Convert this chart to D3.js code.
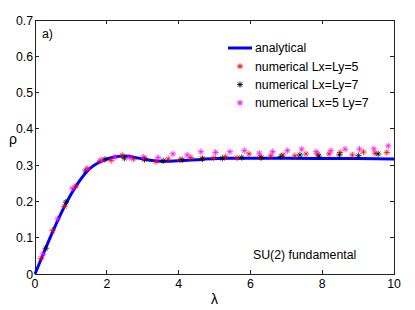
<!DOCTYPE html>
<html>
<head>
<meta charset="utf-8">
<script src="https://cdn.jsdelivr.net/npm/d3@7"></script>
<style>
  body { margin: 0; background: #fff; }
  text { font-family: "Liberation Sans", Arial, sans-serif; }
</style>
</head>
<body>
<svg id="chart" width="415" height="310"></svg>
<script>
// analytical curve
const curveLam = [0, 0.25, 0.5, 0.75, 1.0, 1.25, 1.5, 1.75, 2.0, 2.25, 2.5, 2.75, 3.0, 3.25, 3.5, 3.75, 4.0, 4.5, 5.0, 5.5, 6.0, 7.0, 8.0, 9.0, 10.0];
const curveRho = [0, 0.06, 0.118, 0.172, 0.219, 0.258, 0.288, 0.306, 0.317, 0.323, 0.325, 0.322, 0.317, 0.313, 0.311, 0.311, 0.312, 0.315, 0.318, 0.319, 0.319, 0.319, 0.318, 0.318, 0.317];

// numerical Lx=Ly=5
const redLam = [0.17, 0.49, 0.82, 1.14, 1.47, 1.81, 2.12, 2.43, 2.74, 3.06, 3.37, 3.71, 4.04, 4.34, 4.66, 4.98, 5.31, 5.63, 5.96, 6.27, 6.57, 6.91, 7.24, 7.55, 7.87, 8.19, 8.5, 8.84, 9.15, 9.47, 9.8];
const redRho = [0.043, 0.12, 0.186, 0.243, 0.29, 0.312, 0.313, 0.327, 0.317, 0.318, 0.31, 0.317, 0.315, 0.321, 0.318, 0.319, 0.323, 0.32, 0.331, 0.322, 0.326, 0.328, 0.326, 0.331, 0.33, 0.331, 0.335, 0.328, 0.336, 0.333, 0.335];

// numerical Lx=Ly=7
const blackLam = [0.30, 0.86, 1.41, 1.95, 2.49, 3.05, 3.57, 4.1, 4.66, 5.22, 5.76, 6.3, 6.85, 7.38, 7.91, 8.48, 9.01, 9.56];
const blackRho = [0.071, 0.198, 0.284, 0.316, 0.319, 0.316, 0.312, 0.315, 0.317, 0.319, 0.321, 0.321, 0.324, 0.328, 0.325, 0.328, 0.326, 0.331];

// numerical Lx=5 Ly=7
const magLam = [0.22, 0.63, 1.04, 1.44, 1.86, 2.23, 2.63, 3.02, 3.43, 3.84, 4.24, 4.62, 5.03, 5.43, 5.83, 6.25, 6.62, 7.03, 7.43, 7.83, 8.24, 8.64, 9.04, 9.44, 9.84];
const magRho = [0.055, 0.152, 0.236, 0.289, 0.314, 0.322, 0.321, 0.322, 0.321, 0.331, 0.328, 0.337, 0.335, 0.337, 0.34, 0.333, 0.337, 0.34, 0.344, 0.337, 0.34, 0.344, 0.344, 0.345, 0.353];

const xTicks = [0, 2, 4, 6, 8, 10];
const yTicks = [0, 0.1, 0.2, 0.3, 0.4, 0.5, 0.6, 0.7];
const legendLabels = ["analytical", "numerical Lx=Ly=5", "numerical Lx=Ly=7", "numerical Lx=5 Ly=7"];
const colors = ["#0000ff", "#ff0000", "#000000", "#ff00ff"];

const svg = d3.select("#chart");
const m = {l: 35, r: 21, t: 20, b: 36};
const W = 415, H = 310;
const x = d3.scaleLinear().domain([0, 10]).range([m.l, W - m.r]);
const y = d3.scaleLinear().domain([0, 0.7]).range([H - m.b, m.t]);
const fs = 12.3;

// axes box
const box = svg.append("g").attr("shape-rendering", "crispEdges");
box.append("rect")
    .attr("x", x(0)).attr("y", y(0.7))
    .attr("width", x(10) - x(0)).attr("height", y(0) - y(0.7))
    .attr("fill", "none").attr("stroke", "#222").attr("stroke-width", 1);

// ticks, inward on all four sides
const tl = 4;
xTicks.forEach(t => {
    box.append("line").attr("x1", x(t)).attr("x2", x(t)).attr("y1", y(0)).attr("y2", y(0) - tl).attr("stroke", "#222");
    box.append("line").attr("x1", x(t)).attr("x2", x(t)).attr("y1", y(0.7)).attr("y2", y(0.7) + tl).attr("stroke", "#222");
});
yTicks.forEach(t => {
    box.append("line").attr("x1", x(0)).attr("x2", x(0) + tl).attr("y1", y(t)).attr("y2", y(t)).attr("stroke", "#222");
    box.append("line").attr("x1", x(10)).attr("x2", x(10) - tl).attr("y1", y(t)).attr("y2", y(t)).attr("stroke", "#222");
});

svg.append("g").selectAll("text").data(xTicks).join("text")
    .attr("x", d => x(d)).attr("y", y(0) + 14)
    .attr("text-anchor", "middle").attr("font-size", fs)
    .text(d => d);
svg.append("g").selectAll("text").data(yTicks).join("text")
    .attr("x", x(0) - 2).attr("y", d => y(d) + 4.5)
    .attr("text-anchor", "end").attr("font-size", fs)
    .text(d => d === 0 ? "0" : d.toFixed(1));

// axis labels
svg.append("text").attr("x", x(5)).attr("y", 304)
    .attr("text-anchor", "middle").attr("font-size", 14).text("λ");
svg.append("text").attr("x", 13).attr("y", 144)
    .attr("text-anchor", "middle").attr("font-size", 14).text("ρ");

// analytical curve
const line = d3.line().x((d, i) => x(curveLam[i])).y(d => y(d)).curve(d3.curveNatural);
svg.append("path").datum(curveRho)
    .attr("d", line)
    .attr("fill", "none").attr("stroke", colors[0]).attr("stroke-width", 3);

// asterisk marker
function star(s) {
    const d = s * 0.707;
    return `M${-s},0L${s},0M0,${-s}L0,${s}M${-d},${-d}L${d},${d}M${-d},${d}L${d},${-d}`;
}

const series = [
    {lam: redLam, rho: redRho, c: colors[1]},
    {lam: blackLam, rho: blackRho, c: colors[2]},
    {lam: magLam, rho: magRho, c: colors[3]}
];
series.forEach(s => {
    svg.append("g").selectAll("path").data(s.rho).join("path")
        .attr("transform", (d, i) => `translate(${x(s.lam[i])},${y(d)})`)
        .attr("d", star(3.2))
        .attr("fill", "none").attr("stroke", s.c).attr("stroke-width", 0.9)
        .attr("opacity", 0.85);
});

// legend
const lg = svg.append("g").attr("transform", "translate(228,48)");
legendLabels.forEach((lab, i) => {
    const yy = i * 18.3;
    if (i === 0) {
        lg.append("line").attr("x1", 0).attr("x2", 24).attr("y1", yy).attr("y2", yy)
            .attr("stroke", colors[0]).attr("stroke-width", 3);
    } else {
        lg.append("path").attr("transform", `translate(12,${yy})`)
            .attr("d", star(3)).attr("fill", "none")
            .attr("stroke", colors[i]).attr("stroke-width", 0.9);
    }
    lg.append("text").attr("x", 27).attr("y", yy + 4.3)
        .attr("font-size", fs).text(lab);
});

svg.append("text").attr("x", 42).attr("y", 38).attr("font-size", fs).text("a)");
svg.append("text").attr("x", 253).attr("y", 259).attr("font-size", fs).text("SU(2) fundamental");
</script>
</body>
</html>
